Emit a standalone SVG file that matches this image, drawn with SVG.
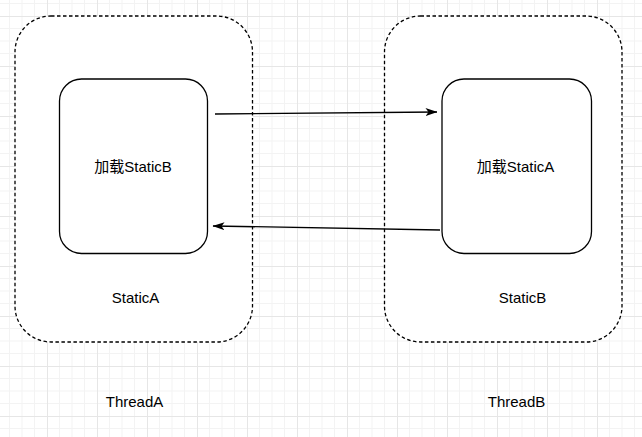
<svg xmlns="http://www.w3.org/2000/svg" width="642" height="437" viewBox="0 0 642 437">
<style>
.outer{fill:#fff;stroke:#000;stroke-width:1.3;stroke-dasharray:3.5 2.5}
.inner{fill:#fff;stroke:#000;stroke-width:1.3}
.lbl{font-family:"Liberation Sans","Noto Sans CJK SC",sans-serif;font-size:15px;fill:#000;text-anchor:middle}
.edge{fill:none;stroke:#000;stroke-width:1.3}
</style>
<defs>
<pattern id="grid" x="47" y="16" width="50" height="50" patternUnits="userSpaceOnUse">
<path d="M12.5,0V50M25,0V50M37.5,0V50M0,12.5H50M0,25H50M0,37.5H50" stroke="#f3f3f3" stroke-width="1" fill="none"/>
<path d="M0.5,0V50M0,0.5H50" stroke="#e6e6e6" stroke-width="1" fill="none"/>
</pattern>
<marker id="arr" viewBox="0 0 12 8" refX="11.5" refY="4" markerWidth="12" markerHeight="8" markerUnits="userSpaceOnUse" orient="auto">
<path d="M0,0 L12,4 L0,8 L3,4 Z" fill="#000"/>
</marker>
</defs>
<rect width="642" height="437" fill="#fff"/>
<rect width="642" height="437" fill="url(#grid)"/>
<g id="threadA">
<rect class="outer" x="15" y="16" width="237.5" height="326" rx="36" ry="36"/>
<text class="lbl" x="135.5" y="302.5">StaticA</text>
<text class="lbl" x="134.5" y="406.5">ThreadA</text>
</g>
<g id="threadB">
<rect class="outer" x="384.5" y="16" width="237.5" height="326" rx="36" ry="36"/>
<text class="lbl" x="522.5" y="302.5">StaticB</text>
<text class="lbl" x="516.5" y="406.5">ThreadB</text>
</g>
<g id="loadB">
<rect class="inner" x="59.5" y="79" width="148" height="174.5" rx="22" ry="22"/>
<text class="lbl" x="133" y="172">加载StaticB</text>
</g>
<g id="loadA">
<rect class="inner" x="442" y="79" width="149.5" height="174.5" rx="22" ry="22"/>
<text class="lbl" x="515.5" y="172">加载StaticA</text>
</g>
<g id="connectors">
<line class="edge" x1="215" y1="114" x2="437" y2="112" marker-end="url(#arr)"/>
<line class="edge" x1="440" y1="230" x2="213" y2="226" marker-end="url(#arr)"/>
</g>
</svg>
